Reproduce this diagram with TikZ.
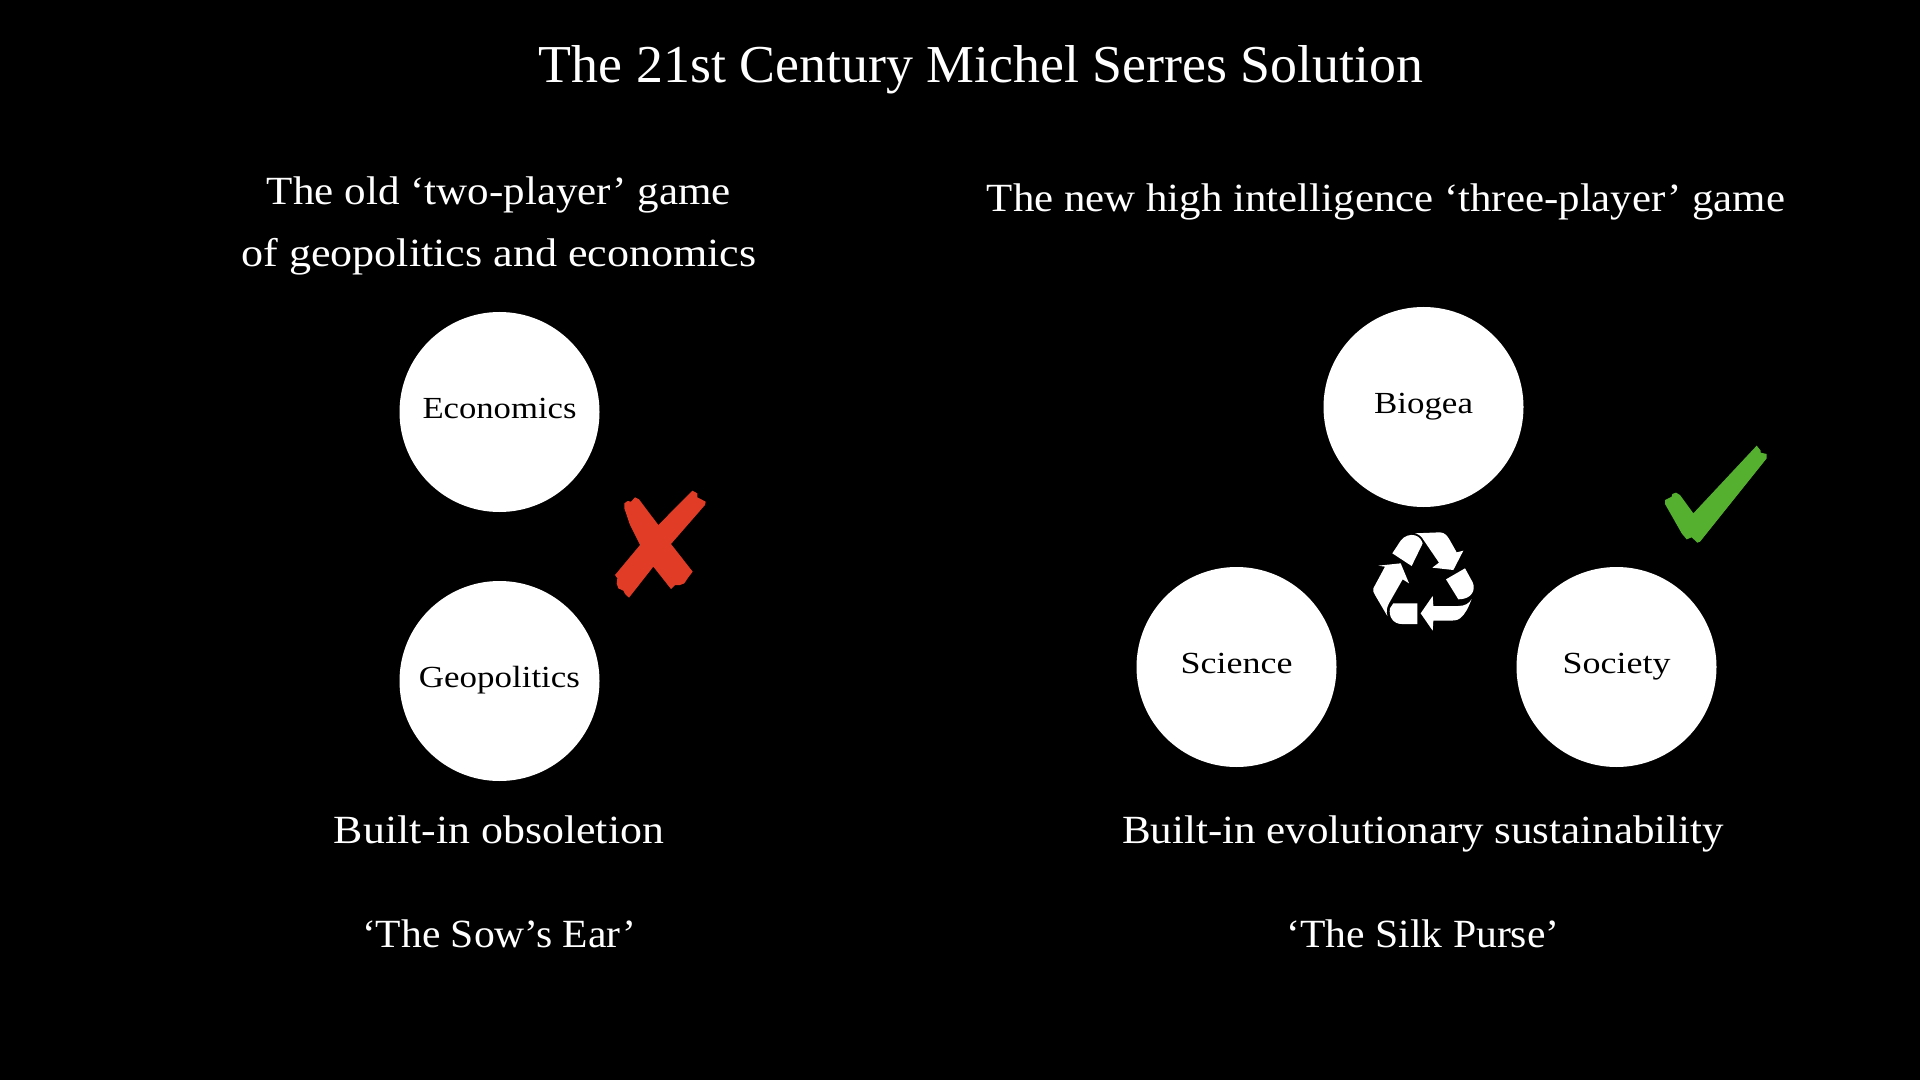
\documentclass[tikz,border=0pt]{standalone}
\usepackage{fontspec}
\usepackage{graphicx}
\setmainfont{Liberation Serif}
\definecolor{xred}{HTML}{E03C26}
\definecolor{tickgreen}{HTML}{55B030}
\newcommand{\fitw}[2]{\resizebox{0.75\dimexpr #1pt\relax}{\height}{#2}}
\tikzset{
  x=0.75pt,y=-0.75pt,
  txt/.style={text=white,anchor=base,inner sep=0pt,outer sep=0pt},
  titletxt/.style={txt,font=\fontsize{40}{48}\selectfont},
  headtxt/.style={txt,font=\fontsize{30}{36}\selectfont},
  bubble/.style={circle,fill=white,text=black,minimum size=150pt,inner sep=0pt,outer sep=0pt,text height=9pt,text depth=0pt,font=\fontsize{23}{28}\selectfont},
  zoomed/.style={x=0.25pt,y=-0.25pt},
}
\begin{document}
\begin{tikzpicture}
\fill[black] (0,0) rectangle (1920,1080);
\useasboundingbox (0,0) rectangle (1920,1080);
\node[titletxt] (title) at (981,83) {\fitw{884}{The 21st Century Michel Serres Solution}};
\node[headtxt] (oldA) at (499,205) {\fitw{464}{The old ‘two-player’ game}};
\node[headtxt] (oldB) at (499,267) {\fitw{515}{of geopolitics and economics}};
\node[headtxt] (newA) at (1386,212) {\fitw{798}{The new high intelligence ‘three-player’ game}};
\node[bubble] (econ) at (499.5,412) {\fitw{154}{Economics}};
\node[bubble] (geo) at (499.5,681) {\fitw{161}{Geopolitics}};
\node[bubble] (bio) at (1423.5,407) {\fitw{99}{Biogea}};
\node[bubble] (sci) at (1236.5,667) {\fitw{112}{Science}};
\node[bubble] (soc) at (1616.5,667) {\fitw{108}{Society}};
\node[headtxt] (obs) at (499,843) {\fitw{330}{Built-in obsoletion}};
\node[headtxt] (evo) at (1423,843) {\fitw{602}{Built-in evolutionary sustainability}};
\node[headtxt] (sow) at (499,947) {\fitw{274}{‘The Sow’s Ear’}};
\node[headtxt] (silk) at (1423,947) {\fitw{273}{‘The Silk Purse’}};
% red cross
\begin{scope}[shift={(590,470)},zoomed]
\fill[xred] (103,100)--(113,93)--(123,95)--(135,82)--(147,88)--(205,165)--(307,62)--(322,70)--(322,82)--(347,95)--(345,105)--(243,222)--(308,305)--(295,322)--(283,340)--(270,345)--(255,345)--(243,357)--(190,290)--(117,383)--(105,372)--(100,362)--(85,355)--(80,340)--(82,325)--(75,315)--(150,225)--(120,165)--(103,115)--cycle;
\end{scope}
% green tick
\begin{scope}[shift={(1640,430)},zoomed]
\fill[tickgreen] (75,210)--(95,200)--(97,192)--(108,188)--(120,195)--(160,250)--(350,47)--(362,62)--(362,68)--(380,72)--(380,85)--(180,335)--(172,338)--(155,322)--(140,328)--(125,310)--(75,222)--cycle;
\end{scope}
% recycle symbol
\begin{scope}[shift={(1360,520)},zoomed,fill=white]
\fill (165,40)--(240,37) .. controls (255,38) and (262,48) .. (268,58)--(290,97)--(310,92)--(280,150)--(217,143)--(237,128)--(192,62) .. controls (185,50) and (178,43) .. (165,40)--cycle;
\fill (97,100)--(122,62) .. controls (132,48) and (150,42) .. (165,46) .. controls (178,50) and (185,60) .. (188,70)--(155,138)--cycle;
\fill (258,178)--(315,145)--(338,187) .. controls (348,210) and (335,238) .. (295,238)--cycle;
\fill (335,237) .. controls (325,262) and (318,280) .. (300,295) .. controls (290,302) and (280,302) .. (270,302)--(220,302)--(218,332)--(182,280)--(218,228)--(220,258)--(295,258) .. controls (315,258) and (328,250) .. (335,237)--cycle;
\fill (100,250)--(172,250)--(172,312)--(125,312) .. controls (100,312) and (85,290) .. (90,265)--cycle;
\fill (40,205)--(75,140)--(55,137)--(122,130)--(147,190)--(128,178)--(88,248) .. controls (80,262) and (78,275) .. (82,288)--(45,225) .. controls (40,218) and (39,212) .. (40,205)--cycle;
\end{scope}
\end{tikzpicture}
\end{document}
